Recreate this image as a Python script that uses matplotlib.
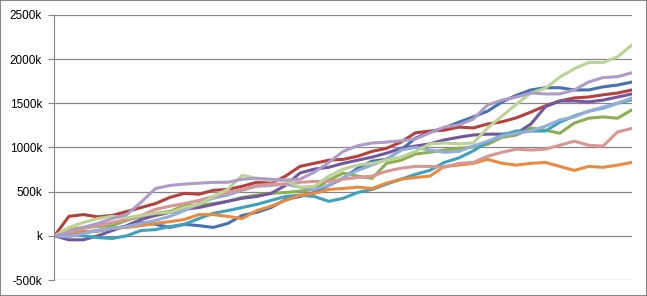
## ten cumulative series, excel-style line chart

import matplotlib
matplotlib.use("Agg")
import matplotlib.pyplot as plt
from matplotlib.patches import Rectangle
from matplotlib.ticker import FuncFormatter

plt.rcParams['font.family'] = ['Liberation Sans', 'DejaVu Sans']

steps = list(range(41))

# values in k
blue = [0, 25, 35, 60, 85, 105, 150, 130, 95, 130, 115, 95, 140, 230, 265, 320, 410, 445, 490, 570,
        650, 765, 845, 865, 970, 1105, 1175, 1220, 1285, 1345, 1410, 1515, 1590, 1650, 1675, 1675, 1650, 1650, 1685, 1705, 1740]
red = [0, 220, 240, 215, 230, 275, 320, 365, 435, 480, 470, 515, 525, 560, 605, 595, 675, 785, 820, 855,
       865, 900, 955, 990, 1060, 1165, 1185, 1195, 1230, 1220, 1265, 1290, 1335, 1400, 1470, 1525, 1560, 1570, 1595, 1615, 1650]
green = [0, 70, 95, 105, 115, 175, 220, 255, 275, 345, 345, 365, 390, 435, 460, 480, 490, 505, 525, 630,
         710, 675, 650, 820, 855, 925, 945, 970, 990, 1005, 1035, 1115, 1140, 1220, 1195, 1160, 1275, 1330, 1345, 1330, 1425]
purple = [0, -45, -45, 0, 60, 115, 185, 230, 265, 300, 320, 355, 390, 425, 445, 480, 570, 710, 755, 775,
          820, 855, 890, 935, 990, 1015, 1040, 1085, 1115, 1140, 1150, 1150, 1160, 1265, 1460, 1525, 1525, 1515, 1535, 1570, 1605]
teal = [0, 15, 0, -20, -30, 0, 60, 70, 105, 130, 195, 255, 285, 320, 355, 400, 445, 460, 445, 390,
        425, 490, 525, 585, 640, 695, 740, 830, 880, 960, 1060, 1140, 1185, 1185, 1185, 1285, 1355, 1410, 1445, 1500, 1540]
orange = [0, 25, 50, 50, 85, 95, 115, 140, 160, 185, 240, 240, 220, 195, 285, 335, 400, 460, 480, 525,
          535, 550, 535, 595, 640, 660, 675, 785, 800, 820, 865, 820, 800, 820, 830, 785, 740, 785, 775, 800, 830]
light_blue = [0, -10, 25, 60, 85, 105, 140, 175, 220, 285, 365, 425, 460, 515, 560, 570, 585, 550, 525, 570,
              660, 740, 800, 865, 970, 1000, 970, 945, 955, 1015, 1070, 1130, 1160, 1185, 1240, 1310, 1345, 1410, 1455, 1500, 1560]
pink = [0, 60, 85, 115, 150, 185, 230, 300, 335, 365, 400, 445, 490, 525, 570, 585, 585, 605, 615, 615,
        640, 660, 675, 730, 765, 785, 785, 775, 820, 830, 900, 945, 980, 970, 980, 1025, 1070, 1025, 1015, 1175, 1215]
light_green = [0, 95, 150, 195, 220, 205, 230, 255, 265, 320, 355, 445, 525, 685, 650, 630, 630, 550, 560, 675,
               755, 800, 820, 855, 890, 955, 1040, 1050, 1040, 1050, 1220, 1355, 1490, 1615, 1670, 1795, 1890, 1960, 1960, 2025, 2160]
light_purple = [0, 35, 95, 140, 195, 240, 380, 535, 570, 585, 595, 605, 605, 640, 650, 640, 630, 640, 720, 830,
                955, 1020, 1050, 1060, 1075, 1095, 1165, 1230, 1255, 1320, 1480, 1535, 1570, 1615, 1605, 1605, 1650, 1740, 1790, 1800, 1845]

series = [blue, red, green, purple, teal, orange, light_blue, pink, light_green, light_purple]
colors = ['#4672B0', '#B5403D', '#8DB04F', '#7358A0', '#3EA2BD', '#EB8A3C',
          '#93AEDA', '#D99694', '#BDD396', '#AE9CC8']

fig = plt.figure(figsize=(6.47, 2.96), dpi=100)
ax = fig.add_axes([0.0842, 0.054, 0.8926, 0.896])

for vals, c in zip(series, colors):
    ax.plot(steps, vals, color=c, lw=2.2, solid_joinstyle='round', solid_capstyle='round')

ax.set_xlim(0, 40)
ax.set_ylim(-500, 2500)
ax.set_yticks(range(-500, 2501, 500))
ax.yaxis.set_major_formatter(FuncFormatter(lambda v, p: ("%d" % v if v != 0 else "") + "k"))
ax.set_xticks([])
ax.grid(axis='y', color='#868686', lw=0.9)
ax.set_axisbelow(True)
for s in ['top', 'right', 'bottom']:
    ax.spines[s].set_visible(False)
ax.spines['left'].set_color('#868686')
ax.tick_params(axis='y', length=4, color='#868686', pad=5, labelsize=8.5)

# chart border
fig.patches.append(Rectangle((0, 0), 1, 1, transform=fig.transFigure, fill=False,
                             edgecolor='#868686', lw=1.5))

plt.savefig("out.png", dpi=100)
